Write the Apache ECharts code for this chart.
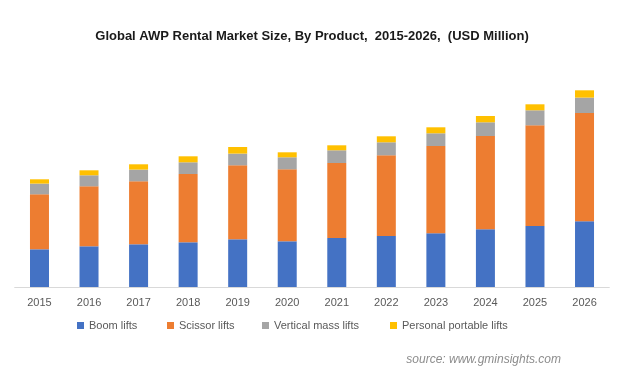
<!DOCTYPE html>
<html><head><meta charset="utf-8">
<script src="https://cdn.jsdelivr.net/npm/echarts@6/dist/echarts.min.js"></script>
<style>html,body{margin:0;padding:0;background:#fff}#c{width:624px;height:371px}</style>
</head><body><div id="c"></div>
<script>
const years = ['2015','2016','2017','2018','2019','2020','2021','2022','2023','2024','2025','2026'];
const boomLifts = [37.7, 40.7, 42.7, 44.7, 47.7, 45.7, 49, 51, 53.7, 57.7, 61, 65.7];
const scissorLifts = [55, 60, 63, 68.3, 74, 72, 75, 80.7, 87.3, 93.3, 100.7, 108.3];
const verticalMassLifts = [10.7, 11, 11.7, 11.7, 11.7, 12, 12.7, 13, 12.7, 13.7, 15, 15.4];
const personalPortableLifts = [4.3, 5, 5.3, 6, 6.6, 5, 5, 6, 6, 6.3, 6, 7.3];
const seriesNames = ['Boom lifts','Scissor lifts','Vertical mass lifts','Personal portable lifts'];
const colors = ['#4472C4','#ED7D31','#A5A5A5','#FFC000'];
const values = [boomLifts, scissorLifts, verticalMassLifts, personalPortableLifts];
const legendLefts = [72, 162, 257, 385];

const chart = echarts.init(document.getElementById('c'));
chart.setOption({
  animation: false,
  color: colors,
  title: [{
    text: 'Global AWP Rental Market Size, By Product,  2015-2026,  (USD Million)',
    left: 'center', top: 25,
    textStyle: {fontFamily: 'Liberation Sans', fontSize: 13, fontWeight: 'bold', color: '#1a1a1a'}
  }, {
    text: 'source: www.gminsights.com',
    right: 58, top: 349,
    textStyle: {fontFamily: 'Liberation Sans', fontSize: 12, fontStyle: 'italic', fontWeight: 'normal', color: '#8c8c8c'}
  }],
  legend: seriesNames.map((n, i) => ({
    data: [n], left: legendLefts[i], top: 315,
    itemWidth: 7, itemHeight: 7, icon: 'rect', itemGap: 0,
    textStyle: {fontFamily: 'Liberation Sans', fontSize: 11, color: '#595959'}
  })),
  grid: {left: 14.7, right: 14.7, top: 87, bottom: 84, containLabel: false},
  xAxis: {
    type: 'category', data: years,
    axisLine: {lineStyle: {color: '#d9d9d9'}},
    axisTick: {show: false},
    axisLabel: {fontFamily: 'Liberation Sans', fontSize: 11, color: '#595959', margin: 10}
  },
  yAxis: {type: 'value', min: 0, max: 200, show: false, splitLine: {show: false}},
  series: values.map((v, i) => ({
    name: seriesNames[i], type: 'bar', stack: 'total', data: v, barWidth: 19
  }))
});
</script></body></html>
